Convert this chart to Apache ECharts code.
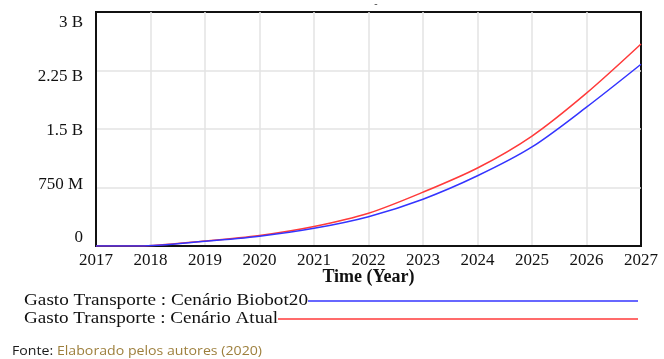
<!DOCTYPE html>
<html>
<head>
<meta charset="utf-8">
<script src="https://cdn.jsdelivr.net/npm/echarts@6/dist/echarts.min.js"></script>
<style>
  html, body { margin: 0; padding: 0; background: #fff; }
  #chart { width: 664px; height: 359px; }
</style>
</head>
<body>
<div id="chart"></div>
<script>
// Years on the time axis
const years = [2017, 2017.8, 2019, 2020, 2021, 2022, 2023, 2024, 2025, 2026, 2027];
// Transport spending (billions) per scenario
const biobot20 = [0, 0, 0.06, 0.125, 0.227, 0.376, 0.60, 0.90, 1.27, 1.78, 2.33];
const atual    = [0, 0, 0.065, 0.135, 0.25, 0.42, 0.69, 1.00, 1.41, 1.96, 2.59];
// Y tick labels
const yTickValues = [0, 0.75e9, 1.5e9, 2.25e9, 3e9];
const yTickLabels = ['0', '750 M', '1.5 B', '2.25 B', '3 B'];
// Legend entries
const seriesNames = ['Gasto Transporte : Cenário Biobot20', 'Gasto Transporte : Cenário Atual'];
const sourceLabel = 'Fonte: ';
const sourceText = 'Elaborado pelos autores (2020)';

const BLUE = '#3434ff';
const RED = '#ff3a3a';
const SERIF = '"Liberation Serif", "Times New Roman", serif';

function pairs(vals) {
  return years.map((y, i) => [y, vals[i] * 1e9]);
}

const measureCtx = document.createElement('canvas').getContext('2d');
function textWidth(txt, font) {
  measureCtx.font = font;
  return measureCtx.measureText(txt).width;
}

const chart = echarts.init(document.getElementById('chart'), null, { renderer: 'canvas' });

// Legend rows: stretched serif text followed by a coloured line
const legendFont = '16px ' + SERIF;
const legendX = 24;
const legendEndX = 638;
const legendRows = [
  { name: seriesNames[0], y: 301, color: BLUE, textEnd: 308 },
  { name: seriesNames[1], y: 319, color: RED, textEnd: 278 }
];
const extraGraphics = [];
legendRows.forEach(r => {
  const w = textWidth(r.name, legendFont);
  const sx = (r.textEnd - legendX) / w;
  extraGraphics.push({
    type: 'text', x: legendX, y: r.y, scaleX: sx,
    style: { text: r.name, font: legendFont, fill: '#111', textVerticalAlign: 'middle' }
  });
  extraGraphics.push({
    type: 'line',
    shape: { x1: legendX + w * sx, y1: r.y, x2: legendEndX, y2: r.y },
    style: { stroke: r.color, lineWidth: 1.5 }
  });
});

// Source note
const srcFont = '13px "Open Sans", "Noto Sans", sans-serif';
const srcW1 = textWidth(sourceLabel, srcFont);
const srcW2 = textWidth(sourceText, srcFont);
const srcScale = (262 - 12) / (srcW1 + srcW2);
extraGraphics.push({
  type: 'group', x: 12, y: 351, scaleX: srcScale,
  children: [
    { type: 'text', x: 0, y: 0, style: { text: sourceLabel, font: srcFont, fill: '#1a1a1a', textVerticalAlign: 'middle' } },
    { type: 'text', x: srcW1, y: 0, style: { text: sourceText, font: srcFont, fill: '#9d7f3c', textVerticalAlign: 'middle' } }
  ]
});
extraGraphics.push({
  type: 'text', x: 376, y: 4,
  style: { text: '-', font: 'bold 10px ' + SERIF, fill: '#555', textAlign: 'center', textVerticalAlign: 'middle' }
});

// The value labels sit on their own compressed scale: "0" a little above the
// baseline and "3 B" a little below the top edge.
const labelAxisMin = -0.1116e9;
const labelAxisMax = 3.1535e9;

chart.setOption({
  animation: false,
  backgroundColor: '#fff',
  grid: {
    left: 96, right: 23, top: 12, bottom: 113,
    show: true, borderColor: '#111', borderWidth: 2, backgroundColor: 'transparent'
  },
  xAxis: {
    type: 'value', min: 2017, max: 2027, interval: 1,
    name: 'Time (Year)', nameLocation: 'middle', nameGap: 22, nameMoveOverlap: false,
    nameTextStyle: { fontFamily: SERIF, fontSize: 18, fontWeight: 'bold', color: '#111' },
    axisLine: { show: true, lineStyle: { color: '#111', width: 2 } },
    axisTick: { show: false },
    axisLabel: { fontFamily: SERIF, fontSize: 17, color: '#111', margin: 6, formatter: v => String(v) },
    splitLine: { show: true, showMinLine: false, showMaxLine: false, lineStyle: { color: '#e3e3e3', width: 1.5 } }
  },
  yAxis: [
    {
      type: 'value', min: 0, max: 3e9, interval: 0.75e9,
      axisLine: { show: true, lineStyle: { color: '#111', width: 2 } },
      axisTick: { show: false },
      axisLabel: { show: false },
      splitLine: { show: true, showMinLine: false, showMaxLine: false, lineStyle: { color: '#e3e3e3', width: 1.5 } }
    },
    {
      type: 'value', position: 'left', min: labelAxisMin, max: labelAxisMax,
      axisLine: { show: false },
      axisTick: { show: false },
      splitLine: { show: false },
      axisLabel: {
        fontFamily: SERIF, fontSize: 17, color: '#111', margin: 13,
        customValues: yTickValues,
        formatter: v => {
          const i = yTickValues.findIndex(t => Math.abs(t - v) < 1);
          return i >= 0 ? yTickLabels[i] : '';
        }
      }
    }
  ],
  series: [
    {
      name: seriesNames[1], type: 'line', data: pairs(atual),
      smooth: 0.3, showSymbol: false,
      lineStyle: { color: RED, width: 1.5 }, z: 3
    },
    {
      name: seriesNames[0], type: 'line', data: pairs(biobot20),
      smooth: 0.3, showSymbol: false,
      lineStyle: { color: BLUE, width: 1.5 }, z: 4
    }
  ],
  graphic: extraGraphics
});
</script>
</body>
</html>
